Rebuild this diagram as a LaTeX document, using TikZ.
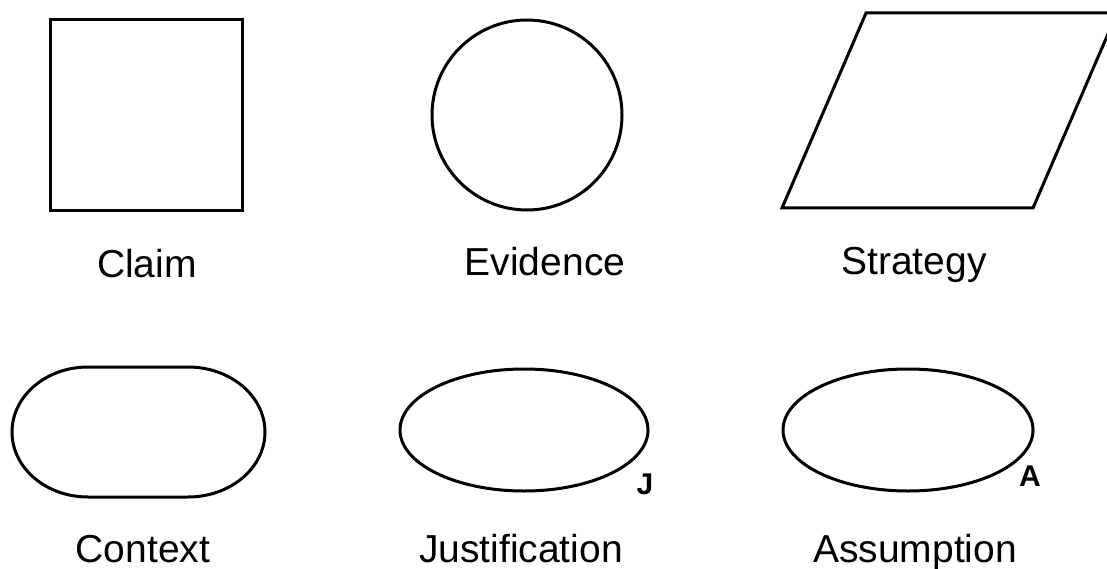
\documentclass[tikz,border=0pt]{standalone}
\usepackage{fontspec}
\setmainfont{Liberation Sans}
\usepackage{xcolor}
\usepackage{tikz}

\begin{document}
\begin{tikzpicture}[x=1pt, y=-1pt,
  shapeline/.style={line width=3pt, color=black, line join=miter},
  lbl/.style={anchor=base, inner sep=0pt, font=\fontsize{39}{44}\selectfont},
  tag/.style={inner sep=0pt, font=\fontsize{30}{33}\selectfont\bfseries}]
\useasboundingbox (0,0) rectangle (1107,569);
% claim
\draw[shapeline] (50,20) rectangle (242,211);
\node[lbl] (claim) at (147,277) {Claim};
% evidence
\draw[shapeline] (527,115) circle[radius=95];
\node[lbl] (evidence) at (545,275) {Evidence};
% strategy
\draw[shapeline] (782,208) -- (866,13) -- (1117,13) -- (1033,208) -- cycle;
\node[lbl] (strategy) at (914,274) {Strategy};
% context
\draw[shapeline] (88,367) -- (188,367) arc[start angle=-90, end angle=90, x radius=77, y radius=65]
  -- (88,497) arc[start angle=90, end angle=270, x radius=76, y radius=65] -- cycle;
\node[lbl] (context) at (143,562) {Context};
% justification
\draw[shapeline] (524,430) ellipse[x radius=124, y radius=61];
\node[tag] (jtag) at (645,484) {J};
\node[lbl] (justification) at (521,562) {Justification};
% assumption
\draw[shapeline] (908,430) ellipse[x radius=125, y radius=61];
\node[tag] (atag) at (1030,476) {A};
\node[lbl] (assumption) at (915,562) {Assumption};
\end{tikzpicture}
\end{document}
